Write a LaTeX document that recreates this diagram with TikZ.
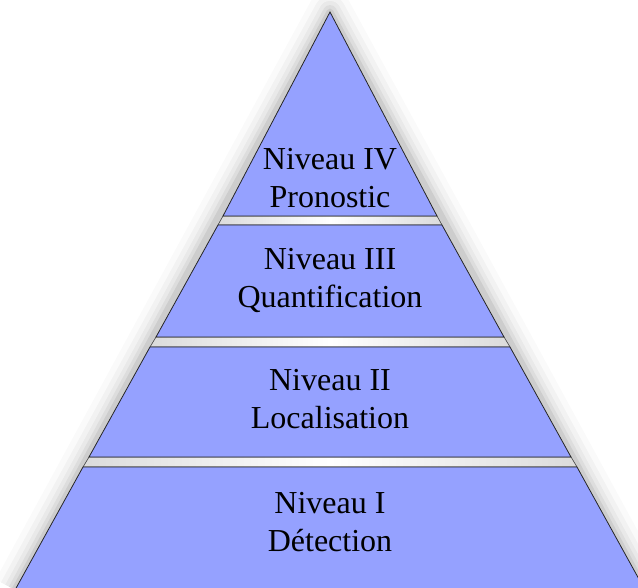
\documentclass[tikz,border=0pt]{standalone}
\usepackage{fontspec}
\setmainfont{Liberation Serif}
\definecolor{niveau}{RGB}{149,161,255}
\tikzset{
  band/.style={fill=niveau, draw=black!85, line width=0.8pt},
  gap/.style={left color=black!14, right color=black!14, middle color=white, draw=black!70, line width=0.6pt},
  level/.style={align=center, inner sep=0pt, font=\fontsize{32}{38}\selectfont}
}
\begin{document}
\begin{tikzpicture}[x=1pt, y=-1pt]
\useasboundingbox (0,0) rectangle (638,588);
\clip (0,0) rectangle (638,588);
\foreach \w/\o in {44/0.02, 32/0.03, 22/0.04, 14/0.05, 7/0.07}
  \draw[line width=\w pt, black, opacity=\o, line join=round] (15,590) -- (330,12) -- (645,590);

\fill[gap] (223,216) -- (437,216) -- (442,225) -- (218,225) -- cycle;
\fill[gap] (156,337) -- (504,337) -- (510,347) -- (150,347) -- cycle;
\fill[gap] (89,457) -- (571,457) -- (577,467) -- (83,467) -- cycle;

\draw[band] (330,12) -- (437,216) -- (223,216) -- cycle;
\draw[band] (218,225) -- (442,225) -- (504,337) -- (156,337) -- cycle;
\draw[band] (150,347) -- (510,347) -- (571,457) -- (89,457) -- cycle;
\draw[band] (83,467) -- (577,467) -- (645,590) -- (15,590) -- cycle;

\node[level] (n4) at (330,178) {Niveau IV\\Pronostic};
\node[level] (n3) at (330,281) {Niveau III\\Quantification};
\node[level] (n2) at (330,399) {Niveau II\\Localisation};
\node[level] (n1) at (330,522) {Niveau I\\Détection};
\end{tikzpicture}
\end{document}
